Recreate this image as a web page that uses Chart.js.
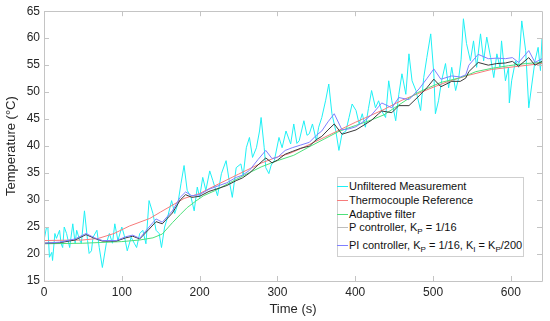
<!DOCTYPE html>
<html>
<head>
<meta charset="utf-8">
<script src="https://cdn.jsdelivr.net/npm/chart.js@4.4.1/dist/chart.umd.min.js"></script>
<style>
  body { margin: 0; background: #fff; }
  #wrap { position: relative; width: 550px; height: 321px; }
  #legend {
    position: absolute; left: 337px; top: 177px; width: 185px; height: 78px;
    border: 1px solid #cfcfcf; background: #fff;
    font-family: 'Liberation Sans', Arial, sans-serif; font-size: 11px; color: #111;
  }
  .row { position: absolute; left: 0; height: 14px; line-height: 14px; white-space: nowrap; }
  .row i { position: absolute; left: -1px; top: 7px; width: 11px; height: 1px; }
  .row span { position: absolute; left: 11px; top: 0; }
  sub { font-size: 8px; vertical-align: -3px; line-height: 0; }
</style>
</head>
<body>
<div id="wrap">
  <canvas id="tempChart" width="550" height="321"></canvas>
  <div id="legend"></div>
</div>
<script>
// Axis ticks
const xTicks = [0, 100, 200, 300, 400, 500, 600];
const yTicks = [15, 20, 25, 30, 35, 40, 45, 50, 55, 60, 65];

// Unfiltered measurement (time in s, temperature in degC)
const rawT = [0, 3, 5, 7, 10, 11, 14, 16, 20, 22, 24, 26, 29, 33, 37, 40, 42, 46, 48, 52,
  56, 58, 61, 63, 68, 71, 75, 80, 84, 88, 91, 95, 100, 103, 107, 112, 116, 119, 123, 127,
  131, 135, 140, 144, 148, 151, 155, 159, 164, 168, 172, 176, 180, 184, 189, 193, 197, 200, 204, 208,
  213, 217, 223, 228, 234, 238, 242, 247, 253, 256, 260, 264, 268, 273, 277, 279, 283, 285, 289, 292,
  296, 302, 306, 311, 317, 321, 325, 328, 334, 338, 341, 345, 350, 353, 357, 362, 366, 370, 375, 379,
  383, 388, 392, 396, 401, 405, 409, 413, 417, 421, 426, 430, 434, 439, 443, 447, 452, 456, 460, 465,
  469, 473, 478, 484, 488, 492, 497, 501, 503, 507, 511, 516, 520, 524, 529, 533, 536, 539, 543, 548,
  552, 556, 561, 565, 569, 574, 578, 582, 586, 588, 593, 597, 598, 601, 606, 610, 614, 619, 623, 627,
  631, 635, 638, 640];
const rawV = [22.5, 24.8, 24.9, 19.4, 20.3, 18.8, 23.8, 22.9, 24.4, 21.9, 21.2, 25, 23.8, 21.2, 25.6, 22.0, 24.4, 22.5, 22.0, 28,
  22.5, 20.1, 20.6, 23.1, 24.4, 21.2, 17.5, 21.9, 23.8, 22.0, 25.6, 22.5, 25, 23.5, 20.6, 23.1, 22.0, 21.2, 23.8, 24.4,
  21.9, 29.9, 27.5, 24.4, 23.8, 21.2, 25, 26.9, 29.9, 27.5, 29.3, 33, 36.4, 31.8, 30.5, 28, 32.4, 30.5, 34.2, 31.8,
  35.4, 33.6, 30.8, 34.9, 37.3, 33.6, 30.5, 36, 36.7, 34.5, 39.7, 41.6, 37.9, 39.7, 42.8, 45.3, 39.7, 36, 34.9, 36.5,
  37.3, 41.6, 39.7, 42.8, 40.4, 44.1, 40.5, 41, 44.7, 42.0, 42.3, 44.1, 41, 43.5, 45.3, 48.5, 51.5, 46, 42.8, 39.2,
  42.3, 42.8, 45.3, 47.8, 46.6, 44.1, 46, 43.5, 47, 50.3, 47.1, 48.4, 46.5, 45.3, 52.1, 48.4, 44.7, 49.6, 53.4, 49.6,
  57.1, 52.1, 50.3, 46.6, 52.7, 56.4, 60.8, 53.4, 46, 48.4, 52.1, 55.3, 50.8, 54.6, 50.3, 52.7, 56, 63.6, 59, 55.8,
  59.5, 54.6, 60.8, 55.8, 60.2, 56.4, 52.7, 57.1, 54.6, 59.5, 52.1, 54.6, 48, 52.1, 55.8, 54.6, 63.2, 57.7, 47.1, 51.5,
  55.8, 58.3, 54, 60];

// Thermocouple reference
const refT = [0, 50, 70, 90, 110, 136, 150, 180, 200, 212, 250, 280, 300, 315, 328, 360, 400, 437, 460, 480,
  500, 520, 545, 575, 610, 640];
const refV = [22.5, 22.6, 22.9, 23.8, 25.2, 26.6, 27.8, 30.3, 31.2, 32.1, 34.8, 36.9, 38, 38.6, 39.4, 41.6, 44.4, 46.8, 48.5, 49.7,
  50.9, 52, 53.1, 54.2, 54.8, 55.3];

// Adaptive filter
const adaptT = [0, 50, 100, 123, 140, 152, 165, 175, 184, 195, 205, 219, 240, 260, 280, 300, 321, 340, 360, 380,
  400, 420, 437, 460, 480, 494, 510, 533, 545, 555, 575, 597, 619, 640];
const adaptV = [21.9, 22.0, 22.3, 22.6, 23.0, 23.7, 25.8, 27.3, 28.6, 29.8, 30.8, 31.7, 33.3, 34.8, 36.2, 37.3, 38.3, 39.8, 41.3, 42.8,
  43.8, 44.8, 45.8, 48, 49.9, 50.8, 51.8, 52.6, 53.2, 53.8, 54.4, 54.9, 55.3, 55.5];

// P and PI controller outputs share the same time points
const ctrlT = [0, 20, 40, 54, 65, 75, 93, 105, 114, 123, 135, 144, 152, 165, 175, 182, 190, 200, 212, 225,
  235, 247, 255, 264, 275, 285, 293, 300, 310, 319, 330, 341, 350, 357, 365, 373, 383, 392, 401, 410,
  421, 430, 434, 447, 456, 469, 482, 492, 501, 510, 524, 535, 542, 546, 558, 571, 582, 593, 602, 610,
  623, 631, 640];
const pV = [22, 22.1, 22.6, 23.6, 22.9, 22.4, 22.4, 23, 23.3, 22.8, 24.6, 26, 25.6, 27.6, 30, 31, 30.5, 30.7, 31.6, 32.2,
  32.7, 33.6, 34.1, 35, 36.5, 37.8, 36.9, 37.4, 38.5, 39, 39.6, 40, 41.2, 41.8, 43, 44.1, 42.2, 42.6, 43, 43.8,
  44.8, 46, 46.5, 46.2, 47.5, 47.5, 49.3, 50.8, 52.4, 51, 52, 52, 52.6, 53.8, 55.5, 55, 55.3, 55.4, 55.7, 54.8,
  56.4, 55, 55.7];
const piV = [22, 22.2, 22.8, 23.8, 23.0, 22.5, 22.5, 23.2, 23.5, 22.9, 25, 26.5, 25.9, 28, 30.5, 31.5, 30.8, 31, 32, 32.7,
  33.2, 34.2, 34.6, 35.5, 37.5, 39.2, 37.7, 37.9, 39.2, 39.7, 40.2, 40.7, 42, 42.8, 44.5, 46, 43, 43.2, 43.6, 44.5,
  45.8, 47.3, 48, 47.1, 49, 48.6, 50.6, 52.5, 54.3, 52.4, 53, 52.8, 53.2, 55, 57, 56.2, 56.3, 56.2, 56.4, 55.5,
  57.7, 55.5, 56.2];

const FONT = "'Liberation Sans', Arial, sans-serif";

function toPoints(ts, vs) {
    return ts.map((t, i) => ({ x: t, y: vs[i] }));
}

// Legend entries (html so the subscripts stay real text)
const legendItems = [
    { color: '#1ff0f5', label: 'Unfiltered Measurement', cy: 8 },
    { color: '#f77b7b', label: 'Thermocouple Reference', cy: 22 },
    { color: '#4ee07a', label: 'Adaptive filter', cy: 36 },
    { color: '#bdbdbd', label: 'P controller, K<sub>P</sub> = 1/16', cy: 49 },
    { color: '#7f7fff', label: 'PI controller, K<sub>P</sub> = 1/16, K<sub>I</sub> = K<sub>P</sub>/200', cy: 67 }
];

// Draws the axes box and inward ticks (MATLAB style)
const boxPlugin = {
    id: 'boxTicks',
    afterDatasetsDraw(chart) {
        const { ctx, chartArea: a, scales } = chart;
        ctx.save();
        ctx.strokeStyle = '#c4c4c4';
        ctx.lineWidth = 1;
        ctx.beginPath();
        ctx.rect(Math.round(a.left) + 0.5, Math.round(a.top) + 0.5,
            Math.round(a.right - a.left), Math.round(a.bottom - a.top));
        xTicks.forEach(v => {
            const px = Math.round(scales.x.getPixelForValue(v)) + 0.5;
            ctx.moveTo(px, a.bottom); ctx.lineTo(px, a.bottom - 5);
            ctx.moveTo(px, a.top); ctx.lineTo(px, a.top + 5);
        });
        yTicks.forEach(v => {
            const py = Math.round(scales.y.getPixelForValue(v)) + 0.5;
            ctx.moveTo(a.left, py); ctx.lineTo(a.left + 5, py);
            ctx.moveTo(a.right, py); ctx.lineTo(a.right - 5, py);
        });
        ctx.stroke();
        ctx.restore();
    }
};

function lineSet(label, data, color, order) {
    return {
        label: label,
        data: data,
        borderColor: color,
        borderWidth: 1,
        pointRadius: 0,
        tension: 0,
        fill: false,
        order: order
    };
}

const ctx = document.getElementById('tempChart').getContext('2d');
new Chart(ctx, {
    type: 'line',
    data: {
        datasets: [
            lineSet('Unfiltered Measurement', toPoints(rawT, rawV), '#1ff0f5', 5),
            lineSet('Thermocouple Reference', toPoints(refT, refV), '#f77b7b', 4),
            lineSet('Adaptive filter', toPoints(adaptT, adaptV), '#4ee07a', 3),
            lineSet('P controller', toPoints(ctrlT, pV), '#3a3a3a', 2),
            lineSet('PI controller', toPoints(ctrlT, piV), '#7f7fff', 1)
        ]
    },
    options: {
        responsive: false,
        animation: false,
        events: [],
        layout: { padding: { top: 10, right: 8, left: 0, bottom: 0 } },
        plugins: {
            legend: { display: false },
            tooltip: { enabled: false }
        },
        scales: {
            x: {
                type: 'linear',
                min: 0,
                max: 640,
                grid: { display: false, drawTicks: false },
                border: { display: false },
                afterBuildTicks: s => { s.ticks = xTicks.map(v => ({ value: v })); },
                afterFit: s => { s.height = 40; },
                ticks: { color: '#262626', padding: 4, maxRotation: 0, font: { family: FONT, size: 12 } },
                title: { display: true, text: 'Time (s)', color: '#262626', padding: { top: 4, bottom: 4 },
                    font: { family: FONT, size: 13 } }
            },
            y: {
                type: 'linear',
                min: 15,
                max: 65,
                grid: { display: false, drawTicks: false },
                border: { display: false },
                afterBuildTicks: s => { s.ticks = yTicks.map(v => ({ value: v })); },
                afterFit: s => { s.width = 44; },
                ticks: { color: '#262626', padding: 4, font: { family: FONT, size: 12 } },
                title: { display: true, text: 'Temperature (°C)', color: '#262626', padding: { top: 4, bottom: 4 },
                    font: { family: FONT, size: 13 } }
            }
        }
    },
    plugins: [boxPlugin]
});

const legendBox = document.getElementById('legend');
legendItems.forEach(item => {
    const row = document.createElement('div');
    row.className = 'row';
    row.style.top = (item.cy - 7) + 'px';
    row.innerHTML = `<i style="background:${item.color}"></i><span>${item.label}</span>`;
    legendBox.appendChild(row);
});
</script>
</body>
</html>
